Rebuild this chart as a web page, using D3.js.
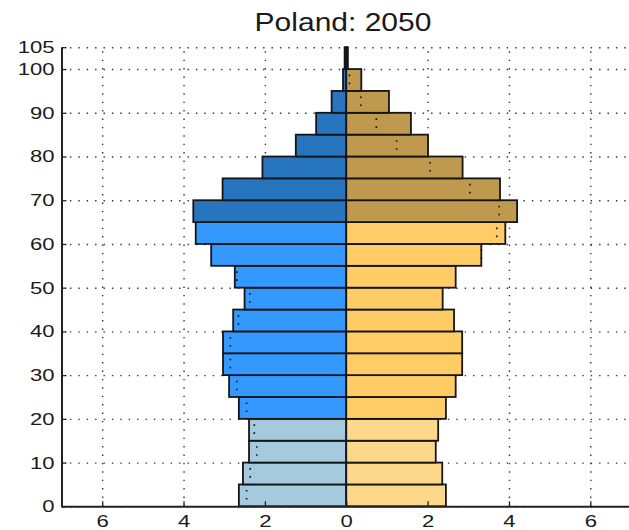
<!DOCTYPE html>
<html>
<head>
<meta charset="utf-8">
<script src="https://cdn.jsdelivr.net/npm/d3@7"></script>
<style>
  body { margin: 0; background: #fff; }
  svg { display: block; overflow: hidden; }
  text { font-family: "Liberation Sans", Arial, sans-serif; fill: #1a1a1a; }
</style>
</head>
<body>
<div id="pyramid"></div>
<script>
// 5-year age groups, lower bound of each group
const ageStart = [0, 5, 10, 15, 20, 25, 30, 35, 40, 45, 50, 55, 60, 65, 70, 75, 80, 85, 90, 95, 100];
// share of population (%) per group
const male   = [2.64, 2.54, 2.39, 2.39, 2.64, 2.88, 3.03, 3.03, 2.78, 2.50, 2.74, 3.32, 3.70, 3.76, 3.04, 2.06, 1.24, 0.74, 0.36, 0.08, 0.04];
const female = [2.45, 2.36, 2.20, 2.26, 2.45, 2.69, 2.85, 2.85, 2.65, 2.37, 2.69, 3.32, 3.91, 4.20, 3.78, 2.86, 2.01, 1.59, 1.05, 0.37, 0.04];
// colour band of each group: young (0-19), working (20-64), old (65+)
const band   = ["young", "young", "young", "young",
                "work", "work", "work", "work", "work", "work", "work", "work", "work",
                "old", "old", "old", "old", "old", "old", "old", "old"];
const xTicks = [-6, -4, -2, 0, 2, 4, 6];
const yTicks = [0, 10, 20, 30, 40, 50, 60, 70, 80, 90, 100, 105];

const maleColor   = { young: "#a6cadd", work: "#3399ff", old: "#2775bf" };
const femaleColor = { young: "#fed88a", work: "#ffcc66", old: "#bf994d" };

const data = ageStart.map((a, i) => ({ age: a, m: male[i], f: female[i], band: band[i] }));

const width = 629, height = 530,
      margin = ({ top: 47.2, right: -2, bottom: 23.7, left: 61.5 });
const sx = 1.3; // labels in the source are drawn wide

let svg = d3.select("#pyramid")
            .append("svg")
            .attr("width", width)
            .attr("height", height);

const x = d3.scaleLinear()
            .domain([-7, 7])
            .range([margin.left, width - margin.right]);

const y = d3.scaleLinear()
            .domain([0, 105])
            .range([height - margin.bottom, margin.top]);

// dotted grid
const grid = svg.append("g").attr("class", "grid");
grid.append("g")
    .attr("transform", `translate(0, ${y(0)})`)
    .call(d3.axisBottom(x).tickValues(xTicks).tickSize(-(y(0) - y(105))).tickFormat(""))
    .call(g => g.select(".domain").remove());
grid.append("g")
    .attr("transform", `translate(${x(-7)}, 0)`)
    .call(d3.axisLeft(y).tickValues(yTicks).tickSize(-(x(7) - x(-7))).tickFormat(""))
    .call(g => g.select(".domain").remove());
grid.selectAll("line")
    .attr("stroke", "#333")
    .attr("stroke-width", 1.4)
    .attr("stroke-dasharray", "1.4,7");

// bars
let bar = svg.selectAll(".bar")
    .data(data)
    .join("g")
    .attr("class", "bar");

bar.append("rect")
    .attr("fill", d => maleColor[d.band])
    .attr("x", d => x(-d.m))
    .attr("width", d => x(0) - x(-d.m))
    .attr("y", d => y(d.age + 5))
    .attr("height", d => y(d.age) - y(d.age + 5));

bar.append("rect")
    .attr("fill", d => femaleColor[d.band])
    .attr("x", x(0))
    .attr("width", d => x(d.f) - x(0))
    .attr("y", d => y(d.age + 5))
    .attr("height", d => y(d.age) - y(d.age + 5));

bar.selectAll("rect")
    .attr("stroke", "#151515")
    .attr("stroke-width", 1.8);

// other sex mirrored onto the wider side, as a dotted mark
bar.filter(d => d.age < 100)
    .append("line")
    .attr("x1", d => d.m > d.f ? x(-d.f) : x(d.m))
    .attr("x2", d => d.m > d.f ? x(-d.f) : x(d.m))
    .attr("y1", d => y(d.age + 5))
    .attr("y2", d => y(d.age))
    .attr("stroke", "#111")
    .attr("stroke-width", 1.6)
    .attr("stroke-dasharray", "1.6,6.4")
    .attr("stroke-dashoffset", -5.5);

// axes
svg.append("g")
    .attr("transform", `translate(0, ${y(0)})`)
    .call(d3.axisBottom(x).tickValues(xTicks).tickSize(-5).tickSizeOuter(0)
            .tickPadding(9).tickFormat(d => Math.abs(d)))
    .call(g => g.selectAll("text").attr("dy", "0.71em"));

svg.append("g")
    .attr("transform", `translate(${x(-7)}, 0)`)
    .call(d3.axisLeft(y).tickValues(yTicks).tickSize(-5).tickSizeOuter(0).tickPadding(7));

svg.selectAll(".tick line").filter(function() { return !this.closest(".grid"); })
    .attr("stroke", "#222").attr("stroke-width", 1.3);
svg.selectAll(".domain").attr("stroke", "#222").attr("stroke-width", 2);

svg.selectAll(".tick text")
    .attr("font-size", 17)
    .attr("font-family", "Liberation Sans, Arial, sans-serif")
    .attr("fill", "#1a1a1a")
    .each(function() {
        const t = d3.select(this);
        t.attr("x", (+t.attr("x") || 0) / sx)
         .attr("transform", `scale(${sx},1)`);
    });

svg.append("text")
    .attr("x", 343 / 1.2)
    .attr("y", 31.5)
    .attr("transform", "scale(1.2,1)")
    .attr("text-anchor", "middle")
    .attr("font-size", 25)
    .text("Poland: 2050");
</script>
</body>
</html>
